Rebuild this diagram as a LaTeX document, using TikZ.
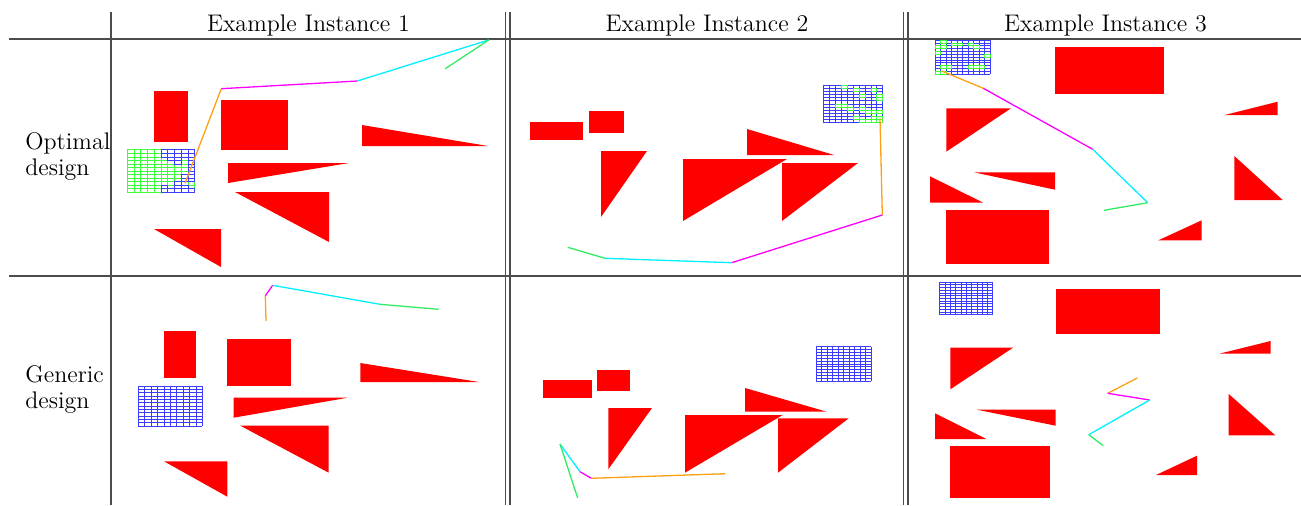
\documentclass[tikz,border=0pt]{standalone}
\usepackage{amssymb, amsmath}
\usepackage{tikz}

\definecolor{pathorange}{RGB}{255,160,20}
\definecolor{pathmagenta}{RGB}{255,0,255}
\definecolor{pathcyan}{RGB}{0,240,255}
\definecolor{pathgreen}{RGB}{50,235,100}
\definecolor{meshblue}{RGB}{60,60,255}
\definecolor{meshgreen}{RGB}{60,255,60}

% mesh of 10 x 12 cells: x0, y0, dx, dy, colour
\newcommand{\meshgrid}[5]{
	\foreach \i in {0,...,10} {
		\draw[#5, line width=.3pt] ({#1+\i*#3}, #2) -- ({#1+\i*#3}, {#2+12*#4});
	}
	\foreach \j in {0,...,12} {
		\draw[#5, line width=.3pt] (#1, {#2+\j*#4}) -- ({#1+10*#3}, {#2+\j*#4});
	}
}

\begin{document}
\begin{tikzpicture}[x=.5pt, y=-.5pt,
	rule/.style={black!70, line width=.6pt},
	label/.style={font=\large, inner sep=0pt},
	route/.style={line width=.65pt}]
	\useasboundingbox (0, 0) rectangle (1301, 505);
	% table
	\draw[rule] (9, 39) -- (1301, 39);
	\draw[rule] (9, 276) -- (1301, 276);
	\foreach \xv in {111, 505.5, 510, 903.5, 908} {
		\draw[rule] (\xv, 12) -- (\xv, 505);
	}
	\node[label, anchor=base] (head1) at (308.5, 31) {Example Instance 1};
	\node[label, anchor=base] (head2) at (707, 31) {Example Instance 2};
	\node[label, anchor=base] (head3) at (1105.5, 31) {Example Instance 3};
	\node[label, anchor=base west] (opt1) at (25, 149) {Optimal};
	\node[label, anchor=base west] (opt2) at (25, 175.5) {design};
	\node[label, anchor=base west] (gen1) at (25, 382) {Generic};
	\node[label, anchor=base west] (gen2) at (25, 408) {design};

	% instance 1, optimal
	\fill[red] (154, 91) rectangle (188, 142);
	\fill[red] (221, 100) rectangle (288, 150);
	\fill[red] (362, 125) -- (362, 146) -- (488, 146) -- cycle;
	\fill[red] (228, 163) -- (349, 163) -- (228, 183) -- cycle;
	\fill[red] (235, 192) -- (329, 192) -- (329, 242) -- cycle;
	\fill[red] (154, 229) -- (221, 229) -- (221, 267) -- cycle;
	\meshgrid{127.3}{149.7}{6.74}{3.55}{meshgreen}
	\foreach \i/\j in {5/0,6/0,7/0,8/0,9/0,5/1,6/1,7/1,8/1,9/1,6/2,7/2,9/2,7/3,9/3,9/4,9/5,9/6,8/7,9/7,8/8,9/8,7/9,5/10,7/10,8/10,5/11,6/11,7/11,8/11,9/11} {
		\draw[meshblue, line width=.3pt] ({127.3+\i*6.74}, {149.7+\j*3.55}) rectangle +(6.74, 3.55);
	}
	\draw[route, pathorange] (185, 183.3) -- (221.3, 88.7);
	\draw[route, pathmagenta] (221.3, 88.7) -- (357.3, 81);
	\draw[route, pathcyan] (357.3, 81) -- (488.7, 40);
	\draw[route, pathgreen] (488.7, 40) -- (445.3, 68.7);

	% instance 2, optimal
	\fill[red] (530, 122) rectangle (583, 140);
	\fill[red] (589, 111) rectangle (624, 133);
	\fill[red] (601, 151) -- (647, 151) -- (601, 217) -- cycle;
	\fill[red] (683, 159) -- (787, 159) -- (683, 221) -- cycle;
	\fill[red] (747, 129) -- (747, 155) -- (834, 155) -- cycle;
	\fill[red] (782, 163) -- (858, 163) -- (782, 221) -- cycle;
	\meshgrid{823.3}{85}{5.94}{3.14}{meshblue}
	\foreach \i/\j in {3/0,5/1,8/1,6/3,9/3,9/4,2/6,3/6,4/7,6/7,7/8,8/8,9/8,5/10,8/10,9/10,6/11,7/11,8/11,9/11} {
		\draw[meshgreen, line width=.3pt] ({823.3+\i*5.94}, {85+\j*3.14}) rectangle +(5.94, 3.14);
	}
	\draw[route, pathorange] (880, 118.3) -- (882.3, 215);
	\draw[route, pathmagenta] (882.3, 215) -- (731.7, 262.7);
	\draw[route, pathcyan] (731.7, 262.7) -- (605, 258.3);
	\draw[route, pathgreen] (605, 258.3) -- (567.7, 247.3);

	% instance 3, optimal
	\fill[red] (1055.3, 47.3) rectangle (1163.7, 94.3);
	\fill[red] (1224.7, 115) -- (1277.7, 101.7) -- (1277.7, 115) -- cycle;
	\fill[red] (946.3, 108.3) -- (1011, 108.3) -- (946.3, 151.7) -- cycle;
	\fill[red] (974, 172.3) -- (1055, 172.3) -- (1055, 189.7) -- cycle;
	\fill[red] (930, 176.3) -- (930, 202.7) -- (983.3, 202.7) -- cycle;
	\fill[red] (946.3, 210.3) rectangle (1049.3, 264.3);
	\fill[red] (1234.3, 156) -- (1234.3, 200) -- (1282.7, 200) -- cycle;
	\fill[red] (1158.3, 240.3) -- (1201.7, 220.3) -- (1201.7, 240.3) -- cycle;
	\meshgrid{935}{40}{5.53}{2.83}{meshblue}
	\foreach \i/\j in {1/0,3/1,4/1,6/1,0/2,1/2,7/2,0/4,9/5,1/9,2/9,6/9,7/9,8/9,0/11,1/11} {
		\draw[meshgreen, line width=.3pt] ({935+\i*5.53}, {40+\j*2.83}) rectangle +(5.53, 2.83);
	}
	\draw[route, pathorange] (941.7, 71) -- (983.3, 88.3);
	\draw[route, pathmagenta] (983.3, 88.3) -- (1092.7, 149.3);
	\draw[route, pathcyan] (1092.7, 149.3) -- (1147.7, 202.7);
	\draw[route, pathgreen] (1147.7, 202.7) -- (1104, 210.3);

	% instance 1, generic
	\fill[red] (164, 331) rectangle (195.7, 378.3);
	\fill[red] (227.3, 339) rectangle (290.7, 386);
	\fill[red] (360.3, 363) -- (360.3, 382) -- (479, 382) -- cycle;
	\fill[red] (233.7, 397.7) -- (347.7, 397.7) -- (233.7, 417.7) -- cycle;
	\fill[red] (240.3, 425.7) -- (328.7, 425.7) -- (328.7, 472.7) -- cycle;
	\fill[red] (164, 461.3) -- (227.3, 461.3) -- (227.3, 496.7) -- cycle;
	\meshgrid{138.3}{386}{6.4}{3.33}{meshblue}
	\draw[route, pathorange] (266, 321) -- (265.3, 295.7);
	\draw[route, pathmagenta] (265.3, 295.7) -- (272.7, 285.3);
	\draw[route, pathcyan] (272.7, 285.3) -- (380, 304.3);
	\draw[route, pathgreen] (380, 304.3) -- (438.7, 309.3);

	% instance 2, generic
	\fill[red] (542.7, 380.3) rectangle (591.7, 397.7);
	\fill[red] (597.3, 370.3) rectangle (630, 391);
	\fill[red] (608.3, 408) -- (652, 408) -- (608.3, 469.3) -- cycle;
	\fill[red] (685, 415) -- (782.7, 415) -- (685, 472.7) -- cycle;
	\fill[red] (745, 388) -- (745, 411.7) -- (826.7, 411.7) -- cycle;
	\fill[red] (778, 418.3) -- (848.7, 418.3) -- (778, 472.7) -- cycle;
	\meshgrid{816}{346.7}{5.53}{2.86}{meshblue}
	\draw[route, pathorange] (725.3, 473.7) -- (591.3, 478.3);
	\draw[route, pathmagenta] (591.3, 478.3) -- (580, 471.7);
	\draw[route, pathcyan] (580, 471.7) -- (560, 444);
	\draw[route, pathgreen] (560, 444) -- (577.7, 498);

	% instance 3, generic
	\fill[red] (1055.7, 288.7) rectangle (1160.3, 334.3);
	\fill[red] (1219.3, 353.7) -- (1270.7, 341) -- (1270.7, 353.7) -- cycle;
	\fill[red] (950.3, 347.7) -- (1013, 347.7) -- (950.3, 389.3) -- cycle;
	\fill[red] (977, 409.7) -- (1055.7, 409.7) -- (1055.7, 425.7) -- cycle;
	\fill[red] (935, 413.3) -- (935, 439) -- (986.3, 439) -- cycle;
	\fill[red] (950.3, 445.7) rectangle (1050.3, 497.7);
	\fill[red] (1228.7, 394) -- (1228.7, 435.3) -- (1275.3, 435.3) -- cycle;
	\fill[red] (1156, 475) -- (1197, 455.7) -- (1197, 475) -- cycle;
	\meshgrid{939.7}{282}{5.3}{2.72}{meshblue}
	\draw[route, pathorange] (1137.3, 378) -- (1107.7, 393.3);
	\draw[route, pathmagenta] (1107.7, 393.3) -- (1149.7, 400);
	\draw[route, pathcyan] (1149.7, 400) -- (1088.7, 434.7);
	\draw[route, pathgreen] (1088.7, 434.7) -- (1103.3, 445.7);
\end{tikzpicture}
\end{document}
